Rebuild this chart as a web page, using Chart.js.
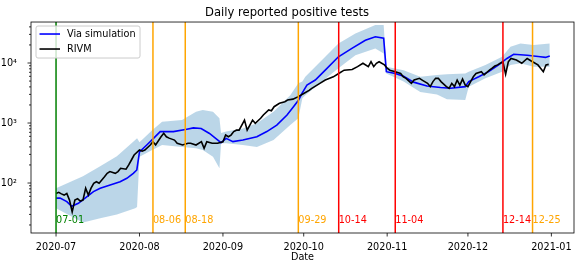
<!DOCTYPE html>
<html>
<head>
<meta charset="utf-8">
<script src="https://cdn.jsdelivr.net/npm/chart.js@4.4.1/dist/chart.umd.min.js"></script>
<style>
  body { margin: 0; background: #fff; }
  canvas { display: block; }
</style>
</head>
<body>
<canvas id="myChart" width="581" height="270"></canvas>
<script>
// x values are days counted from 2020-07-01
const simDays   = [0, 1.5, 4, 5.8, 8.3, 10.8, 13.9, 16.4, 20.1, 23.8, 26.3, 28.7, 30, 31, 33.7, 36.2, 38.7, 43.6, 48.6, 51, 53.9, 57, 60.1, 61.3, 63.2, 65.7, 69.4, 74.6, 78.3, 82, 85.8, 88.2, 90.1, 91.3, 93.2, 96.3, 100, 104.9, 109.9, 114.9, 118.6, 121.7, 122.7, 126, 129.1, 132.8, 137.8, 142.8, 146.5, 152, 153.3, 157, 160.7, 164.4, 167.5, 170, 175, 179.9, 181.8, 183.4];
const simValues = [56, 56, 49, 41, 46, 56, 72, 82, 93, 105, 120, 145, 165, 330, 430, 555, 720, 720, 790, 830, 810, 670, 520, 470, 555, 490, 520, 590, 720, 925, 1360, 1870, 2420, 3100, 4290, 5200, 7600, 12700, 17500, 24000, 27400, 26000, 7170, 6700, 6000, 4800, 4140, 3900, 3790, 4040, 4900, 5890, 7170, 9300, 11900, 14000, 13500, 12700, 12400, 13100];

const bandDays  = [0, 10, 16.4, 22.6, 29.4, 30.1, 31, 35.7, 39.4, 46.8, 52, 54.5, 58.3, 60.7, 61.3, 63.2, 69.4, 74.6, 80.8, 87, 90, 91.5, 92.6, 98.8, 104.9, 111.2, 118.6, 121.7, 122.7, 129.1, 135.3, 141.5, 145.2, 152, 153.3, 159.5, 165.7, 168.8, 172.5, 177.4, 183.4];
const bandLow   = [38, 22, 26, 30, 38, 40, 275, 355, 430, 400, 380, 355, 275, 176, 460, 460, 430, 400, 520, 925, 1200, 2580, 2900, 4900, 8200, 13500, 17500, 14400, 6700, 4900, 3300, 3000, 2480, 2420, 4040, 5550, 7170, 9300, 9900, 8700, 8700];
const bandHigh  = [82, 130, 190, 280, 520, 555, 480, 760, 1050, 1120, 1540, 1650, 1540, 1200, 680, 720, 810, 990, 1540, 2900, 4580, 4900, 5890, 11200, 21200, 31000, 43000, 43000, 8700, 7600, 5890, 6300, 6500, 6700, 7170, 9300, 12700, 18700, 21200, 20000, 21200];

const rivmDays   = [0, 1, 2, 3, 4, 5, 6, 7, 8, 9, 10, 11, 12, 13, 14, 15, 16, 18, 19, 20, 22, 23, 24, 26, 27, 28, 29, 31, 32, 33, 35, 36, 37, 39, 40, 41, 42, 44, 45, 47, 49, 50, 52, 54, 55, 56, 58, 60, 62, 63, 64, 65, 66, 67, 68, 70, 71, 73, 74, 76, 77, 79, 80, 81, 83, 85, 86, 88, 90, 92, 94, 95, 98, 100, 103, 105, 107, 110, 112, 114, 116, 117, 118, 119, 120, 122, 123, 124, 126, 128, 129, 130, 132, 133, 135, 136, 138, 139, 140, 141, 142, 143, 145, 146, 147, 148, 149, 150, 151, 152, 153, 154, 155, 156, 158, 159, 161, 162, 163, 164, 165, 166, 167, 168, 169, 171, 173, 175, 177, 179, 181, 182, 183];
const rivmValues = [67, 70, 66, 63, 67, 52, 33, 52, 55, 50, 52, 82, 63, 82, 99, 105, 99, 127, 145, 155, 145, 155, 176, 170, 200, 242, 293, 355, 340, 355, 430, 488, 430, 590, 673, 590, 560, 520, 460, 430, 460, 460, 430, 490, 378, 490, 460, 460, 488, 630, 590, 630, 720, 760, 760, 1120, 760, 1120, 990, 1200, 1360, 1650, 1600, 1870, 2130, 2270, 2420, 2500, 2750, 3100, 3500, 3790, 4580, 5200, 5890, 6700, 7600, 7800, 8700, 9900, 8700, 10500, 8700, 9900, 10500, 9300, 8200, 7600, 7170, 6700, 5890, 5550, 4580, 5200, 5550, 5200, 4580, 4040, 4900, 5550, 5550, 4900, 4040, 3790, 4580, 4040, 5200, 4290, 5400, 4290, 4040, 4900, 5890, 6700, 7170, 6320, 7600, 8200, 8900, 9300, 9900, 10500, 6500, 10500, 11900, 11200, 9900, 11900, 10500, 9300, 7170, 9300, 9500];

const eventDays   = [0, 36, 48, 90, 105, 126, 166, 177];
const eventLabels = ['07-01', '08-06', '08-18', '09-29', '10-14', '11-04', '12-14', '12-25'];
const eventColors = ['green', 'orange', 'orange', 'orange', 'red', 'red', 'red', 'orange'];
const eventLabelY = 25;

const monthDays   = [0, 31, 62, 92, 123, 153, 184];
const monthLabels = ['2020-07', '2020-08', '2020-09', '2020-10', '2020-11', '2020-12', '2021-01'];
const yMajor = [100, 1000, 10000];
const yMinor = [20, 30, 40, 50, 60, 70, 80, 90, 200, 300, 400, 500, 600, 700, 800, 900,
                2000, 3000, 4000, 5000, 6000, 7000, 8000, 9000, 20000, 30000, 40000];
const sup = { 2: '\u00b2', 3: '\u00b3', 4: '\u2074' };

const FONT = 'DejaVu Sans';

const toPoints = (xs, ys) => xs.map((d, i) => ({ x: d, y: ys[i] }));

const decorations = {
  id: 'decorations',
  afterDatasetsDraw(chart) {
    const { ctx, chartArea: a, scales: { x, y } } = chart;
    ctx.save();
    ctx.beginPath();
    ctx.rect(a.left, a.top, a.width, a.height);
    ctx.clip();
    eventDays.forEach((d, i) => {
      const px = x.getPixelForValue(d);
      ctx.strokeStyle = eventColors[i];
      ctx.lineWidth = 1.5;
      ctx.beginPath();
      ctx.moveTo(px, a.top);
      ctx.lineTo(px, a.bottom);
      ctx.stroke();
      ctx.fillStyle = eventColors[i];
      ctx.font = `9.7px "${FONT}"`;
      ctx.textAlign = 'left';
      ctx.textBaseline = 'middle';
      ctx.fillText(eventLabels[i], px, y.getPixelForValue(eventLabelY) + 1);
    });
    ctx.restore();
  },
  afterDraw(chart) {
    const { ctx, chartArea: a, scales: { x, y } } = chart;
    ctx.save();
    // frame
    ctx.strokeStyle = '#000';
    ctx.lineWidth = 0.8;
    ctx.strokeRect(a.left, a.top, a.width, a.height);
    // tick marks
    ctx.beginPath();
    yMajor.forEach(v => {
      const py = y.getPixelForValue(v);
      ctx.moveTo(a.left - 3.5, py); ctx.lineTo(a.left, py);
    });
    yMinor.forEach(v => {
      const py = y.getPixelForValue(v);
      ctx.moveTo(a.left - 2, py); ctx.lineTo(a.left, py);
    });
    monthDays.forEach(d => {
      const px = x.getPixelForValue(d);
      ctx.moveTo(px, a.bottom); ctx.lineTo(px, a.bottom + 3.5);
    });
    ctx.stroke();

    // legend
    const lx = a.left + 5, ly = a.top + 4, lw = 104, lh = 32;
    ctx.fillStyle = 'rgba(255,255,255,0.8)';
    ctx.strokeStyle = '#cccccc';
    ctx.lineWidth = 1;
    ctx.beginPath();
    ctx.roundRect(lx, ly, lw, lh, 2);
    ctx.fill();
    ctx.stroke();
    const items = [chart.data.datasets[1], chart.data.datasets[0]];
    items.forEach((ds, i) => {
      const cy = ly + 8 + i * 15;
      ctx.strokeStyle = ds.borderColor;
      ctx.lineWidth = 1.6;
      ctx.beginPath();
      ctx.moveTo(lx + 3.5, cy); ctx.lineTo(lx + 24, cy);
      ctx.stroke();
      ctx.fillStyle = '#000';
      ctx.font = `9.7px "${FONT}"`;
      ctx.textAlign = 'left';
      ctx.textBaseline = 'middle';
      ctx.fillText(ds.label, lx + 31, cy);
    });
    ctx.restore();
  }
};

const ctx = document.getElementById('myChart');

new Chart(ctx, {
  type: 'line',
  data: {
    datasets: [
      {
        label: 'RIVM',
        data: toPoints(rivmDays, rivmValues),
        borderColor: '#000000',
        borderWidth: 1.6,
        pointRadius: 0,
        tension: 0,
        fill: false
      },
      {
        label: 'Via simulation',
        data: toPoints(simDays, simValues),
        borderColor: '#0000ff',
        borderWidth: 1.6,
        pointRadius: 0,
        tension: 0,
        fill: false
      },
      {
        label: 'low',
        data: toPoints(bandDays, bandLow),
        borderWidth: 0,
        borderColor: 'rgba(0,0,0,0)',
        pointRadius: 0,
        tension: 0,
        fill: false
      },
      {
        label: 'high',
        data: toPoints(bandDays, bandHigh),
        borderWidth: 0,
        borderColor: 'rgba(0,0,0,0)',
        backgroundColor: 'rgba(31,119,180,0.3)',
        pointRadius: 0,
        tension: 0,
        fill: '-1'
      }
    ]
  },
  options: {
    responsive: false,
    animation: false,
    events: [],
    layout: { padding: { left: 0, right: 7, top: 0, bottom: 0 } },
    plugins: {
      legend: { display: false },
      tooltip: { enabled: false },
      title: {
        display: true,
        text: 'Daily reported positive tests',
        color: '#000',
        font: { family: FONT, size: 11.6, weight: 'normal' },
        padding: { top: 5.8, bottom: 2.3 }
      }
    },
    scales: {
      x: {
        type: 'linear',
        min: -9.3,
        max: 192.4,
        grid: { display: false },
        border: { display: false },
        afterBuildTicks: (scale) => { scale.ticks = monthDays.map(v => ({ value: v })); },
        afterFit: (scale) => { scale.height = 37; },
        ticks: {
          autoSkip: false,
          maxRotation: 0,
          padding: 0.5,
          color: '#000',
          font: { family: FONT, size: 9.7 },
          callback: (v) => monthLabels[monthDays.indexOf(v)]
        },
        title: {
          display: true,
          text: 'Date',
          color: '#000',
          font: { family: FONT, size: 9.7 },
          padding: { top: 0, bottom: 6.5 }
        }
      },
      y: {
        type: 'logarithmic',
        min: 14.7,
        max: 48200,
        grid: { display: false },
        border: { display: false },
        afterBuildTicks: (scale) => {
          scale.ticks = yMinor.concat(yMajor).sort((p, q) => p - q).map(v => ({ value: v, major: yMajor.includes(v) }));
        },
        afterFit: (scale) => { scale.width = 31; },
        ticks: {
          autoSkip: false,
          padding: 6,
          color: '#000',
          font: { family: FONT, size: 9.7 },
          callback: (v) => yMajor.includes(v) ? '10' + sup[Math.round(Math.log10(v))] : ''
        }
      }
    }
  },
  plugins: [decorations]
});
</script>
</body>
</html>
